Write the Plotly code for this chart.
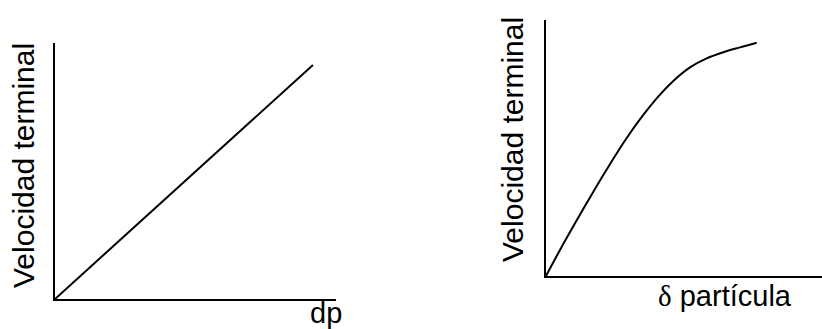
import plotly.graph_objects as go

W, H = 822, 329

# Left panel: terminal velocity vs particle diameter (linear)
dp_vals = [0, 9.18]
vt_left = [0, 9.14]

# Right panel: terminal velocity vs particle density (curve)
delta_vals = [0, 0.507, 0.989, 1.594, 2.199, 2.917, 3.525, 4.011, 4.612,
              5.217, 5.822, 6.424, 7.029, 7.634]
vt_right = [0, 1.016, 1.94, 3.07, 4.16, 5.38, 6.29, 6.94, 7.62,
            8.15, 8.50, 8.74, 8.93, 9.11]

y_label = "Velocidad terminal"
x_label_left = "dp"
x_label_right = "<span style=\"font-family:'Liberation Serif'\">δ</span> partícula"

FONT = "Liberation Sans, Arial, sans-serif"
FS_X = 29
FS_Y = 30


def px_x(p):
    return p / W


def px_y(p):
    return 1 - p / H


fig = go.Figure()
fig.add_trace(go.Scatter(x=dp_vals, y=vt_left, mode="lines",
                         line=dict(color="black", width=2),
                         xaxis="x", yaxis="y", showlegend=False, hoverinfo="skip"))
fig.add_trace(go.Scatter(x=delta_vals, y=vt_right, mode="lines",
                         line=dict(color="black", width=2, shape="spline", smoothing=1.0),
                         xaxis="x2", yaxis="y2", showlegend=False, hoverinfo="skip"))

axis_common = dict(showline=True, linecolor="black", linewidth=2, showgrid=False,
                   zeroline=False, showticklabels=False, ticks="", fixedrange=True,
                   range=[0, 10])

fig.update_layout(
    width=W, height=H,
    margin=dict(l=0, r=0, t=0, b=0),
    paper_bgcolor="white", plot_bgcolor="white",
    font=dict(family=FONT, size=FS_X, color="black"),
    xaxis=dict(domain=[px_x(55), px_x(336)], anchor="y", **axis_common),
    yaxis=dict(domain=[px_y(299), px_y(43)], anchor="x", **axis_common),
    xaxis2=dict(domain=[px_x(546), px_x(822)], anchor="y2", **axis_common),
    yaxis2=dict(domain=[px_y(276), px_y(20)], anchor="x2", **axis_common),
    annotations=[
        dict(text=y_label, textangle=-90, x=px_x(23), y=px_y(166), xref="paper", yref="paper",
             xanchor="center", yanchor="middle", showarrow=False, font=dict(size=FS_Y)),
        dict(text=y_label, textangle=-90, x=px_x(513), y=px_y(140), xref="paper", yref="paper",
             xanchor="center", yanchor="middle", showarrow=False, font=dict(size=FS_Y)),
        dict(text=x_label_left, x=px_x(325.5), y=px_y(313), xref="paper", yref="paper",
             xanchor="center", yanchor="middle", showarrow=False, font=dict(size=FS_X)),
        dict(text=x_label_right, x=px_x(725), y=px_y(296), xref="paper", yref="paper",
             xanchor="center", yanchor="middle", showarrow=False, font=dict(size=FS_X)),
    ],
)

fig.write_html("out.html", config={"displayModeBar": False, "staticPlot": True},
               post_script="document.body.style.margin='0';document.body.style.overflow='hidden';")
